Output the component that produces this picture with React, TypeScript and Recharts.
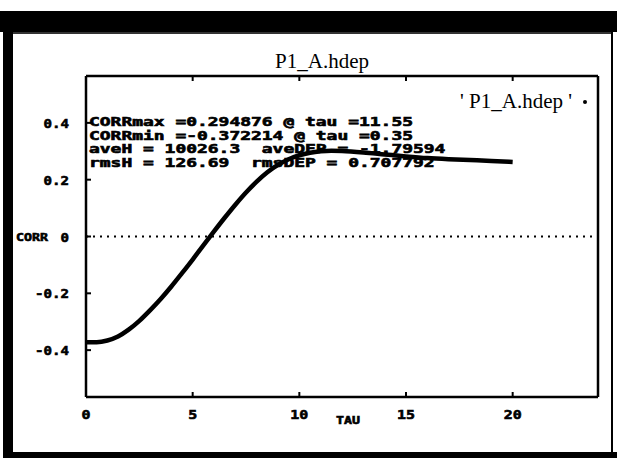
import { LineChart, Line, XAxis, YAxis, ReferenceLine } from 'recharts';

// correlation vs lag
const tau = [0, 0.5, 1, 1.5, 2, 2.5, 3, 3.5, 4, 4.5, 5, 5.5, 6, 6.5, 7, 7.5, 8, 8.5, 9, 9.5, 10, 10.5, 11, 11.5, 12, 13, 14, 15, 16, 17, 18, 19, 20];
const corr = [-0.372, -0.372, -0.366, -0.352, -0.328, -0.297, -0.26, -0.22, -0.176, -0.129, -0.081, -0.031, 0.018, 0.066, 0.112, 0.155, 0.193, 0.226, 0.252, 0.272, 0.286, 0.295, 0.3, 0.302, 0.301, 0.296, 0.289, 0.282, 0.276, 0.272, 0.269, 0.266, 0.262];

const xTicks = [0, 5, 10, 15, 20];
const yTicks = [0.4, 0.2, 0, -0.2, -0.4];
const yTickLabels = ['0.4', '0.2', '0', '-0.2', '-0.4'];

const statLines = [
  'CORRmax =0.294876 @ tau =11.55',
  'CORRmin =-0.372214 @ tau =0.35',
  'aveH = 10026.3  aveDEP = -1.79594',
  'rmsH = 126.69  rmsDEP = 0.707792',
];

const seriesName = "' P1_A.hdep '";
const title = 'P1_A.hdep';

const data = tau.map((t, i) => ({ tau: t, corr: corr[i] }));

const MONO = "'DejaVu Sans Mono', monospace";
const CH = 10.8; // stretched char advance of the old plotter font

const MonoText = ({ x, y, text, w = CH, anchor = 'start', size = 12 }: any) => {
  const len = text.length * w;
  const x0 = anchor === 'end' ? x - len : anchor === 'middle' ? x - len / 2 : x;
  return (
    <text
      x={x0}
      y={y}
      fontFamily={MONO}
      fontWeight="bold"
      fontSize={size}
      fill="#000"
      stroke="#000"
      strokeWidth={0.6}
      textLength={len}
      lengthAdjust="spacingAndGlyphs"
      style={{ whiteSpace: 'pre' }}
    >
      {text}
    </text>
  );
};

const LeftTick = (props: any) => {
  const { x, y, payload } = props;
  const i = yTicks.indexOf(payload.value);
  return (
    <g>
      <line x1={x} y1={y} x2={x + 5} y2={y} stroke="#000" strokeWidth={2} />
      <MonoText x={x - 17} y={y + 5} text={yTickLabels[i] ?? String(payload.value)} w={8.5} anchor="end" size={13} />
    </g>
  );
};

const RightTick = (props: any) => {
  const { x, y } = props;
  return <line x1={x} y1={y} x2={x - 5} y2={y} stroke="#000" strokeWidth={2} />;
};

const BottomTick = (props: any) => {
  const { x, y, payload } = props;
  return (
    <g>
      <line x1={x} y1={y} x2={x} y2={y - 5} stroke="#000" strokeWidth={2} />
      <MonoText x={x} y={y + 22} text={String(payload.value)} w={9} anchor="middle" size={13} />
    </g>
  );
};

const TopTick = (props: any) => {
  const { x, y } = props;
  return <line x1={x} y1={y} x2={x} y2={y + 5} stroke="#000" strokeWidth={2} />;
};

export default function App() {
  return (
    <div style={{ position: 'absolute', left: 0, top: 0, width: 617, height: 461, background: '#fff', overflow: 'hidden' }}>
      {/* window frame */}
      <div style={{ position: 'absolute', left: 0, top: 11, width: 617, height: 21, background: '#000' }} />
      <div style={{ position: 'absolute', left: 3, top: 11, width: 10, height: 447, background: '#000' }} />
      <div style={{ position: 'absolute', left: 3, top: 452, width: 614, height: 6, background: '#000' }} />
      <div style={{ position: 'absolute', left: 611, top: 11, width: 2, height: 447, background: '#000' }} />
      <div style={{ position: 'absolute', left: 13, top: 32, width: 598, height: 2, background: '#333' }} />

      <div style={{ position: 'absolute', left: 0, top: 0 }}>
        <LineChart width={617} height={461} data={data} margin={{ top: 66, right: 9, bottom: 34, left: 26 }}>
          <XAxis
            dataKey="tau"
            type="number"
            domain={[0, 24]}
            ticks={xTicks}
            height={30}
            tickSize={0}
            tickMargin={0}
            tickLine={false}
            axisLine={{ stroke: '#000', strokeWidth: 2.5 }}
            tick={<BottomTick />}
          />
          <XAxis
            xAxisId="top"
            orientation="top"
            dataKey="tau"
            type="number"
            domain={[0, 24]}
            ticks={xTicks}
            height={10}
            tickSize={0}
            tickMargin={0}
            tickLine={false}
            axisLine={{ stroke: '#000', strokeWidth: 2.5 }}
            tick={<TopTick />}
          />
          <YAxis
            type="number"
            domain={[-0.565, 0.565]}
            ticks={yTicks}
            width={60}
            tickSize={0}
            tickMargin={0}
            tickLine={false}
            axisLine={{ stroke: '#000', strokeWidth: 2.5 }}
            tick={<LeftTick />}
          />
          <YAxis
            yAxisId="right"
            orientation="right"
            type="number"
            domain={[-0.565, 0.565]}
            ticks={yTicks}
            width={10}
            tickSize={0}
            tickMargin={0}
            tickLine={false}
            axisLine={{ stroke: '#000', strokeWidth: 2.5 }}
            tick={<RightTick />}
          />
          <ReferenceLine y={0} stroke="#000" strokeWidth={2} strokeDasharray="2 5" />
          <Line
            type="monotone"
            dataKey="corr"
            name={seriesName}
            stroke="#000"
            strokeWidth={4.5}
            dot={false}
            isAnimationActive={false}
          />
        </LineChart>
      </div>

      {/* title, legend, stats box and axis names */}
      <svg width={617} height={461} style={{ position: 'absolute', left: 0, top: 0, pointerEvents: 'none' }}>
        <text x={322} y={68} textAnchor="middle" fontFamily="'Liberation Serif', serif" fontSize={21} fill="#000">
          {title}
        </text>
        <text x={572} y={108} textAnchor="end" fontFamily="'Liberation Serif', serif" fontSize={21} fill="#000" style={{ whiteSpace: 'pre' }}>
          {seriesName}
        </text>
        <circle cx={585} cy={102} r={2} fill="#000" />
        {statLines.map((s, i) => (
          <MonoText key={i} x={89} y={126 + i * 13.5} text={s} />
        ))}
        <MonoText x={16} y={241} text="CORR" w={8} size={11} />
        <MonoText x={348} y={424} text="TAU" w={8} anchor="middle" size={11} />
      </svg>
    </div>
  );
}
